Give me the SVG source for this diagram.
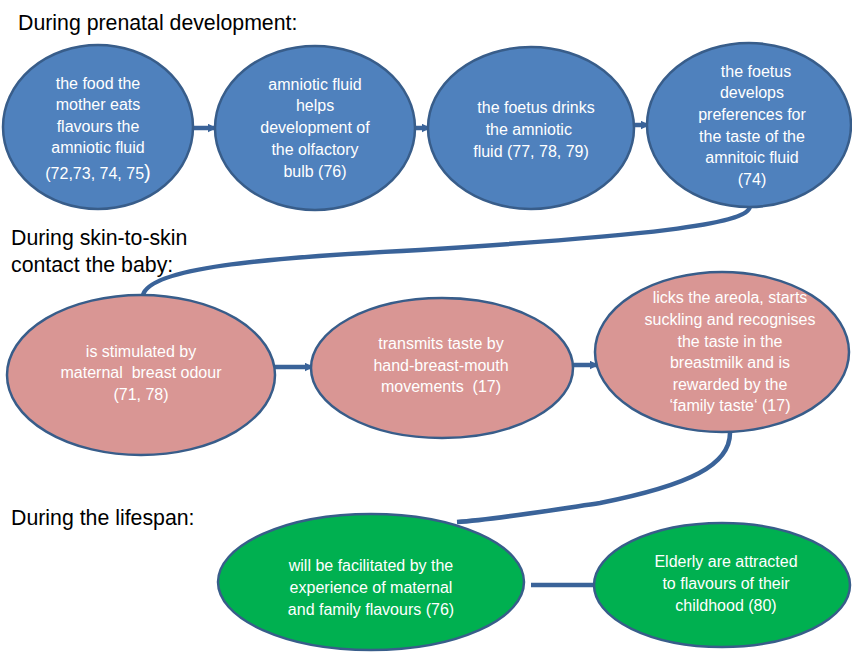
<svg xmlns="http://www.w3.org/2000/svg" width="852" height="653" viewBox="0 0 852 653">
<defs>
<style>
.title{font-family:"Liberation Sans",Arial,sans-serif;font-size:21.3px;fill:#000}
.nt{font-family:"Liberation Sans",Arial,sans-serif;font-size:16px;fill:#fff;text-anchor:middle;white-space:pre}
.blue{fill:#4f81bd;stroke:#385d8a;stroke-width:2.5}
.pink{fill:#d99694;stroke:#385d8a;stroke-width:2.5}
.green{fill:#00b050;stroke:#385d8a;stroke-width:2.5}
.conn{fill:none;stroke:#3a6399;stroke-width:4.5}
.arr{fill:none;stroke:#3a6399;stroke-width:4.5;marker-end:url(#ah)}
</style>
<marker id="ah" viewBox="0 0 6 6" refX="5" refY="3" markerWidth="2" markerHeight="2" orient="auto" markerUnits="strokeWidth">
<path d="M0,0 L6,3 L0,6 z" fill="#3a6399"/>
</marker>
</defs>
<rect width="852" height="653" fill="#fff"/>
<text class="title" x="18" y="30">During prenatal development:</text>
<text class="title" x="11" y="245">During skin-to-skin</text>
<text class="title" x="11" y="272">contact the baby:</text>
<text class="title" x="11" y="525">During the lifespan:</text>

<g id="connectors">
<path class="arr" d="M193,128 L215,128"/>
<path class="arr" d="M414,128 L429,128"/>
<path class="arr" d="M633,125 L648,125"/>
<path class="conn" d="M750,206 C750,225 640,236 420,250 C260,258 150,268 143,295"/>
<path class="arr" d="M275,367 L312,367"/>
<path class="arr" d="M573,365 L597,365"/>
<path class="conn" d="M730,433 C730,465 690,485 600,503 C540,512 490,520 457,522"/>
<path class="conn" d="M531,585 L596,585"/>
</g>

<g id="n1"><ellipse class="blue" cx="98" cy="127" rx="95" ry="82"/>
<text class="nt"><tspan x="98" y="89">the food the</tspan><tspan x="98" y="110">mother eats</tspan><tspan x="98" y="132">flavours the</tspan><tspan x="98" y="153">amniotic fluid</tspan><tspan x="98" y="179">(72,73, 74, 75<tspan style="font-size:20px">)</tspan></tspan></text></g>

<g id="n2"><ellipse class="blue" cx="315" cy="128" rx="100" ry="82"/>
<text class="nt"><tspan x="315" y="90">amniotic fluid</tspan><tspan x="315" y="111">helps</tspan><tspan x="315" y="133">development of</tspan><tspan x="315" y="155">the olfactory</tspan><tspan x="315" y="177">bulb (76)</tspan></text></g>

<g id="n3"><ellipse class="blue" cx="531" cy="128" rx="103" ry="81"/>
<text class="nt"><tspan x="536" y="113">the foetus drinks</tspan><tspan x="531" y="135">the amniotic </tspan><tspan x="531" y="157">fluid (77, 78, 79)</tspan></text></g>

<g id="n4"><ellipse class="blue" cx="749" cy="125" rx="102" ry="82"/>
<text class="nt"><tspan x="756" y="77">the foetus</tspan><tspan x="752" y="98">develops</tspan><tspan x="752" y="120">preferences for</tspan><tspan x="752" y="142">the taste of the</tspan><tspan x="752" y="163">amnitoic fluid</tspan><tspan x="752" y="185">(74)</tspan></text></g>

<g id="n5"><ellipse class="pink" cx="141" cy="375" rx="134" ry="80"/>
<text class="nt"><tspan x="141" y="357">is stimulated by</tspan><tspan x="141" y="378">maternal  breast odour</tspan><tspan x="141" y="400">(71, 78)</tspan></text></g>

<g id="n6"><ellipse class="pink" cx="442" cy="368" rx="131" ry="70"/>
<text class="nt"><tspan x="441" y="349">transmits taste by</tspan><tspan x="441" y="371">hand-breast-mouth</tspan><tspan x="441" y="392">movements  (17)</tspan></text></g>

<g id="n7"><ellipse class="pink" cx="722" cy="352" rx="127" ry="80"/>
<text class="nt"><tspan x="730" y="303">licks the areola, starts</tspan><tspan x="730" y="325">suckling and recognises</tspan><tspan x="730" y="347">the taste in the</tspan><tspan x="730" y="368">breastmilk and is</tspan><tspan x="730" y="390">rewarded by the</tspan><tspan x="730" y="411">‘family taste‘ (17)</tspan></text></g>

<g id="n8"><ellipse class="green" cx="371" cy="582" rx="153" ry="68"/>
<text class="nt"><tspan x="371" y="571">will be facilitated by the</tspan><tspan x="371" y="593">experience of maternal</tspan><tspan x="371" y="615">and family flavours (76)</tspan></text></g>

<g id="n9"><ellipse class="green" cx="722" cy="585" rx="128" ry="62"/>
<text class="nt"><tspan x="726" y="567">Elderly are attracted</tspan><tspan x="726" y="589">to flavours of their</tspan><tspan x="726" y="611">childhood (80)</tspan></text></g>
</svg>
